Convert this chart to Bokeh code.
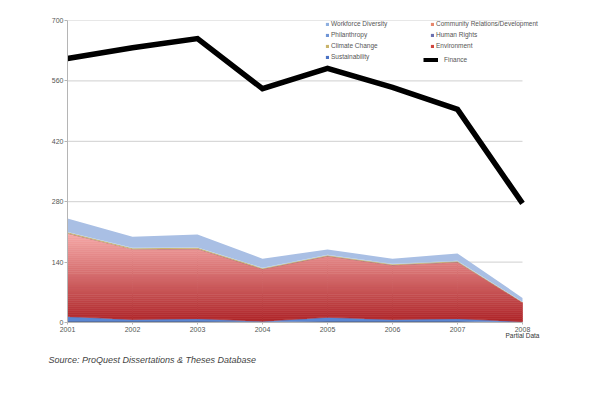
import numpy as np
from bokeh.plotting import figure
from bokeh.models import (Legend, LegendItem, FixedTicker, Range1d, LinearAxis,
                          Title)
from bokeh.embed import file_html
from bokeh.resources import INLINE

years = [2001, 2002, 2003, 2004, 2005, 2006, 2007, 2008]
finance = [612, 637, 658, 542, 589, 545, 494, 276]

human_rights = [3, 3, 3, 2, 3, 3, 3, 1]
sustainability = [11, 4, 6, 1, 9, 4, 6, 1]
environment = [192, 162, 161, 120, 141, 125, 130, 44]
community = [1, 1, 1, 1, 1, 1, 1, 0]
climate = [2, 2, 2, 2, 2, 2, 2, 1]
workforce = [1, 1, 1, 1, 1, 1, 1, 1]
philanthropy = [31, 26, 30, 21, 12, 12, 17, 9]

y_ticks = [0, 140, 280, 420, 560, 700]

p = figure(width=580, height=377, output_backend="svg", toolbar_location=None,
           x_range=Range1d(2001, 2008.6), y_range=Range1d(0, 700),
           min_border_left=67, min_border_right=19, min_border_top=20,
           min_border_bottom=55)
p.outline_line_color = None
p.background_fill_color = "white"
p.xgrid.grid_line_color = None
p.ygrid.grid_line_color = None

# horizontal gridlines spanning 2001..2008 only
p.segment(x0=[years[0]] * len(y_ticks), x1=[years[-1]] * len(y_ticks),
          y0=y_ticks, y1=y_ticks, line_color="#cfcfcf", line_width=1)

x = np.array(years, dtype=float)
base = np.zeros(len(years))

def stack(vals):
    global base
    lo = base.copy()
    hi = base + np.array(vals, dtype=float)
    base = hi
    return lo, hi

hr_lo, hr_hi = stack(human_rights)
su_lo, su_hi = stack(sustainability)
en_lo, en_hi = stack(environment)
cr_lo, cr_hi = stack(community)
cc_lo, cc_hi = stack(climate)
wd_lo, wd_hi = stack(workforce)
ph_lo, ph_hi = stack(philanthropy)

p.varea(x=x, y1=hr_lo, y2=hr_hi, fill_color="#1d3a78")
p.varea(x=x, y1=su_lo, y2=su_hi, fill_color="#5a86d2")

# gradient fill for environment: clip segment trapezoids into horizontal bands
def clip_poly(pts, a, b):
    def clip(points, keep, inter):
        out = []
        n = len(points)
        for i in range(n):
            cur = points[i]
            prv = points[i - 1]
            if keep(cur):
                if not keep(prv):
                    out.append(inter(prv, cur))
                out.append(cur)
            elif keep(prv):
                out.append(inter(prv, cur))
        return out
    def mk(level):
        def inter(p1, p2):
            t = (level - p1[1]) / (p2[1] - p1[1])
            return (p1[0] + t * (p2[0] - p1[0]), level)
        return inter
    pts = clip(pts, lambda q: q[1] >= a, mk(a))
    if not pts:
        return pts
    pts = clip(pts, lambda q: q[1] <= b, mk(b))
    return pts

def lerp_color(c1, c2, t):
    a = [int(c1[i:i + 2], 16) for i in (1, 3, 5)]
    b = [int(c2[i:i + 2], 16) for i in (1, 3, 5)]
    return "#%02x%02x%02x" % tuple(int(round(a[k] + (b[k] - a[k]) * t)) for k in range(3))

xs_list, ys_list, cols = [], [], []
top = float(en_hi.max())
nb = 45
edges = np.linspace(0, top, nb + 1)
for k in range(nb):
    a, b = edges[k], edges[k + 1]
    col = lerp_color("#ad2427", "#f6aaa9", (a + b) / 2 / top)
    for i in range(len(x) - 1):
        quad = [(x[i], en_lo[i]), (x[i + 1], en_lo[i + 1]),
                (x[i + 1], en_hi[i + 1]), (x[i], en_hi[i])]
        poly = clip_poly(quad, a, b)
        if len(poly) >= 3:
            xs_list.append([q[0] for q in poly])
            ys_list.append([q[1] for q in poly])
            cols.append(col)
p.patches(xs_list, ys_list, fill_color=cols, line_color=cols, line_width=0.6)

p.varea(x=x, y1=cr_lo, y2=cr_hi, fill_color="#9a6b6b")
p.varea(x=x, y1=cc_lo, y2=cc_hi, fill_color="#c9b46c")
p.varea(x=x, y1=wd_lo, y2=wd_hi, fill_color="#9fc0e8")
p.varea(x=x, y1=ph_lo, y2=ph_hi, fill_color="#a9bfe4")

r_fin = p.line(x=x, y=finance, line_color="black", line_width=5.5,
               line_join="miter")

# axes
p.yaxis.ticker = FixedTicker(ticks=y_ticks)
p.xaxis.ticker = FixedTicker(ticks=years)
p.xaxis.bounds = (years[0], years[-1])
for ax in (p.xaxis[0], p.yaxis[0]):
    ax.axis_line_color = "#b5b5b5"
    ax.major_tick_line_color = "#b5b5b5"
    ax.minor_tick_line_color = None
    ax.major_tick_in = 0
    ax.major_label_text_font = "Liberation Sans"
    ax.major_label_text_font_size = "7px"
    ax.major_label_text_color = "#555555"
p.yaxis.major_tick_out = 3
p.yaxis.major_label_standoff = 1
p.xaxis.major_tick_out = 2
p.xaxis.major_label_standoff = 2

note_axis = LinearAxis(ticker=FixedTicker(ticks=[years[-1]]),
                       major_label_overrides={years[-1]: "Partial Data"},
                       axis_line_color=None, major_tick_line_color=None,
                       minor_tick_line_color=None, major_label_standoff=-3,
                       major_tick_in=0, major_tick_out=0,
                       major_label_text_font="Liberation Sans",
                       major_label_text_font_size="6.5px",
                       major_label_text_color="#333333")
p.add_layout(note_axis, "below")

p.add_layout(Title(text="Source: ProQuest Dissertations & Theses Database",
                   align="left", offset=-19, standoff=23,
                   text_font="Liberation Sans",
                   text_font_style="italic", text_font_size="9px",
                   text_color="#444444"), "below")

# legends
leg_common = dict(padding=0, margin=0, spacing=0, label_height=11,
                  glyph_height=4, glyph_width=4, label_standoff=2,
                  border_line_color=None, background_fill_alpha=0,
                  label_text_font="Liberation Sans",
                  label_text_font_size="6.5px", label_text_color="#555555")

def swatch(color):
    return p.quad(left=[years[0]], right=[years[0]], bottom=[-100], top=[-100],
                  fill_color=color, line_color=None)

leg1 = Legend(items=[
    LegendItem(label="Workforce Diversity", renderers=[swatch("#8fb0e0")]),
    LegendItem(label="Philanthropy", renderers=[swatch("#6f95d6")]),
    LegendItem(label="Climate Change", renderers=[swatch("#c9b46c")]),
    LegendItem(label="Sustainability", renderers=[swatch("#4a72c4")]),
], location=(258, 260), **leg_common)
leg2 = Legend(items=[
    LegendItem(label="Community Relations/Development", renderers=[swatch("#e6866c")]),
    LegendItem(label="Human Rights", renderers=[swatch("#6b70b0")]),
    LegendItem(label="Environment", renderers=[swatch("#d0453e")]),
], location=(363, 271), **leg_common)
fin_common = dict(leg_common)
fin_common["glyph_width"] = 15
fin_common["label_standoff"] = 6
leg3 = Legend(items=[LegendItem(label="Finance", renderers=[r_fin])],
              location=(356, 257), **fin_common)
for lg in (leg1, leg2, leg3):
    p.add_layout(lg, "center")

open("out.html", "w").write(file_html(p, INLINE))
